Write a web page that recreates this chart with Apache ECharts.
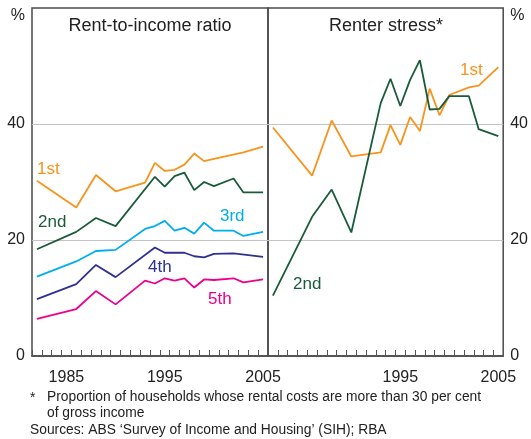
<!DOCTYPE html>
<html>
<head>
<meta charset="utf-8">
<script src="https://cdn.jsdelivr.net/npm/echarts@6/dist/echarts.min.js"></script>
<style>
  html, body { margin: 0; padding: 0; background: #fff; }
  #chart { width: 531px; height: 439px; }
</style>
</head>
<body>
<div id="chart"></div>
<script>
// survey years (both panels use the same years)
var years = [1982, 1986, 1988, 1990, 1993, 1994, 1995, 1996, 1997, 1998, 1999, 2000, 2002, 2003, 2005];

// rent-to-income ratio by income quintile, %
var ratio1st = [30.2, 25.6, 31.2, 28.4, 29.9, 33.3, 31.9, 32.1, 33.0, 34.9, 33.6, 34.0, null, 35.1, 36.1];
var ratio2nd = [18.4, 21.4, 23.8, 22.4, null, 30.9, 29.2, 31.0, 31.6, 28.6, 30.0, 29.3, 30.6, 28.2, 28.2];
var ratio3rd = [13.7, 16.3, 18.1, 18.3, 21.9, 22.4, 23.3, 21.6, 22.1, 21.1, 23.0, 21.6, 21.6, 20.7, 21.4];
var ratio4th = [9.8, 12.4, 15.7, 13.6, null, 18.7, 17.8, null, 17.8, 17.2, 17.0, 17.6, 17.7, null, 17.1];
var ratio5th = [6.4, 8.1, 11.2, 8.9, 13.0, 12.5, 13.4, 13.0, 13.4, 11.8, 13.2, 13.1, 13.4, 12.7, 13.2];

// renter stress, %
var stress1st = [39.4, 31.1, 40.6, 34.4, 35.1, 39.8, 36.4, 41.2, 38.8, 46.1, 41.5, 45.0, 46.3, 46.6, 49.8];
var stress2nd = [10.4, 24.0, 28.7, 21.3, 43.6, 47.8, 43.1, 47.6, 51.0, 42.5, 42.6, 44.8, 44.8, 39.1, 37.9];

// axis
var firstYear = 1982, lastYear = 2005;
var yTicks = [0, 20, 40, 60];
var leftYearLabels = ['1985', '1995', '2005'];
var rightYearLabels = ['1995', '2005'];

var FONT = "'Liberation Sans', Arial, sans-serif";
var colors = {
  q1: '#f7941d',
  q2: '#1a5c3a',
  q3: '#00aeef',
  q4: '#2e3192',
  q5: '#ec008c'
};

var categories = [];
for (var y = firstYear; y <= lastYear; y++) categories.push(String(y));

function pairs(values) {
  var out = [];
  values.forEach(function (v, i) {
    if (v != null) out.push([String(years[i]), v]);
  });
  return out;
}

function lineSeries(values, color, gridIdx) {
  return {
    type: 'line',
    xAxisIndex: gridIdx,
    yAxisIndex: gridIdx,
    data: pairs(values),
    symbol: 'none',
    lineStyle: { color: color, width: 1.8 },
    itemStyle: { color: color },
    animation: false
  };
}

function xAxisFor(gridIdx, labels) {
  return {
    type: 'category',
    gridIndex: gridIdx,
    data: categories,
    boundaryGap: true,
    axisLine: { show: true, lineStyle: { color: '#4a4a4a', width: 1.5 } },
    axisTick: { show: true, inside: true, length: 6, interval: 0, lineStyle: { color: '#555', width: 1 } },
    axisLabel: {
      interval: function (idx, val) { return labels.indexOf(val) >= 0; },
      color: '#222',
      fontSize: 16,
      fontFamily: FONT,
      margin: 14
    },
    splitLine: { show: false }
  };
}

function yAxisFor(gridIdx, pos) {
  return {
    type: 'value',
    gridIndex: gridIdx,
    position: pos,
    min: yTicks[0],
    max: yTicks[yTicks.length - 1],
    interval: 20,
    axisLine: { show: false },
    axisTick: { show: false },
    axisLabel: {
      color: '#222',
      fontSize: 16,
      fontFamily: FONT,
      margin: 7,
      formatter: function (v) { return v === 60 ? '{p|%}' : String(v); },
      rich: { p: { fontSize: 16, fontFamily: FONT, color: '#222', padding: [16, 0, 0, 0] } }
    },
    splitLine: { show: true, showMinLine: false, showMaxLine: false, lineStyle: { color: '#c4c4c4', width: 1 } }
  };
}

function label(text, x, y, color, size, align) {
  return {
    type: 'text',
    x: x,
    y: y,
    silent: true,
    style: {
      text: text,
      fill: color,
      font: (size || 17) + 'px ' + FONT,
      align: align || 'left',
      textAlign: align || 'left',
      verticalAlign: 'middle',
      textVerticalAlign: 'middle'
    }
  };
}

var option = {
  backgroundColor: '#fff',
  animation: false,
  grid: [
    { left: 32, right: 263, top: 8, bottom: 83, show: true, borderColor: '#4a4a4a', borderWidth: 1.5, backgroundColor: 'transparent' },
    { left: 268, right: 26, top: 8, bottom: 83, show: true, borderColor: '#4a4a4a', borderWidth: 1.5, backgroundColor: 'transparent' }
  ],
  xAxis: [xAxisFor(0, leftYearLabels), xAxisFor(1, rightYearLabels)],
  yAxis: [yAxisFor(0, 'left'), yAxisFor(1, 'right')],
  series: [
    lineSeries(ratio5th, colors.q5, 0),
    lineSeries(ratio4th, colors.q4, 0),
    lineSeries(ratio3rd, colors.q3, 0),
    lineSeries(ratio2nd, colors.q2, 0),
    lineSeries(ratio1st, colors.q1, 0),
    lineSeries(stress1st, colors.q1, 1),
    lineSeries(stress2nd, colors.q2, 1)
  ],
  graphic: [
    // panel titles
    label('Rent-to-income ratio', 150, 26, '#222', 18, 'center'),
    label('Renter stress*', 386, 26, '#222', 18, 'center'),
    // series names
    label('1st', 37, 169, colors.q1),
    label('2nd', 38, 222, colors.q2),
    label('3rd', 220, 216, colors.q3),
    label('4th', 148, 267, colors.q4),
    label('5th', 208, 299, colors.q5),
    label('1st', 460, 70, colors.q1),
    label('2nd', 293, 284, colors.q2),
    // notes
    label('*', 30, 398, '#222', 13.8),
    label('Proportion of households whose rental costs are more than 30 per cent', 47, 397, '#222', 13.8),
    label('of gross income', 47, 413, '#222', 13.8),
    label('Sources: ABS \u2018Survey of Income and Housing\u2019 (SIH); RBA', 30, 430, '#222', 13.8)
  ]
};

var myChart = echarts.init(document.getElementById('chart'));
myChart.setOption(option);
</script>
</body>
</html>
